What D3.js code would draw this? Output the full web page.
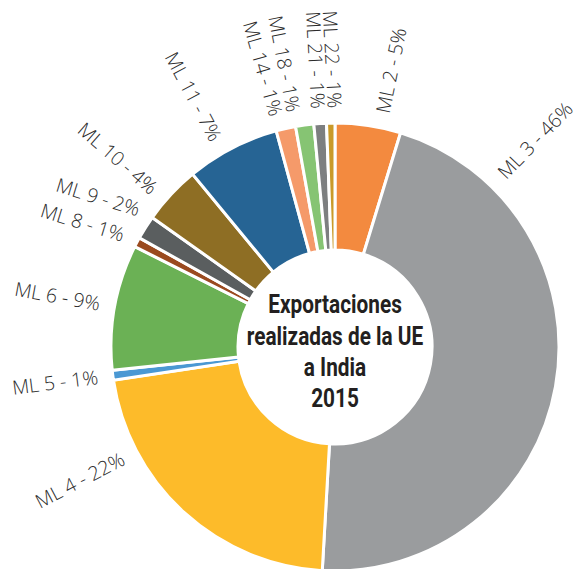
<!DOCTYPE html>
<html>
<head>
<meta charset="utf-8">
<script src="https://cdn.jsdelivr.net/npm/d3@7"></script>
<style>
  body { margin: 0; background: #fff; }
</style>
</head>
<body>
<div id="chart"></div>
<script>
// slices clockwise from 12 o'clock
var categories = ["ML 2", "ML 3", "ML 4", "ML 5", "ML 6", "ML 8", "ML 9",
    "ML 10", "ML 11", "ML 14", "ML 18", "ML 21", "ML 22"];
var shares = [4.7, 45.9, 21.6, 0.7, 9.0, 0.7, 1.7, 4.2, 6.7, 1.4, 1.3, 0.9, 0.6];
var pctLabels = ["5%", "46%", "22%", "1%", "9%", "1%", "2%", "4%", "7%", "1%", "1%", "1%", "1%"];
var centerLines = ["Exportaciones", "realizadas de la UE", "a India", "2015"];

var sliceColors = ["#f38a3f", "#9a9c9e", "#fdbb2a", "#4a98d3", "#6bb155", "#9a4a1f",
    "#5a5e5f", "#8e6e24", "#266494", "#f59a6a", "#86c473", "#7d7f80", "#c99a2a"];

var width = 581, height = 569;
var cx = 335, cy = 347,
    outerR = 224, innerR = 97;

var svg = d3.select("#chart")
    .append("svg")
    .attr("width", width)
    .attr("height", height);

var g = svg.append("g")
    .attr("transform", "translate(" + cx + "," + cy + ")");

var color = d3.scaleOrdinal()
    .domain(categories)
    .range(sliceColors);

var pie = d3.pie()
    .sort(null)
    .value(function (d) { return d.value; });

var data = categories.map(function (c, i) {
    return {name: c, value: shares[i], label: c + " - " + pctLabels[i]};
});

var arcs = pie(data);

var arc = d3.arc()
    .innerRadius(innerR)
    .outerRadius(outerR);

g.selectAll("path.slice")
    .data(arcs)
    .enter()
    .append("path")
    .attr("class", "slice")
    .attr("d", arc)
    .style("fill", function (d) { return color(d.data.name); })
    .style("stroke", "white")
    .style("stroke-width", 3);

// nudge labels (degrees) so they fit the canvas and don't collide
var labelShift = {"ML 2": 3, "ML 3": -56, "ML 4": 20, "ML 9": 2.8, "ML 10": -2,
    "ML 11": -2.5, "ML 14": -1.6, "ML 18": -2.2, "ML 21": -0.3, "ML 22": 1};
// a couple of labels are not exactly radial
var labelTilt = {"ML 8": 287, "ML 9": 287, "ML 11": 332, "ML 14": 344, "ML 18": 349,
    "ML 21": 357, "ML 22": 357};

var labelR = outerR + 15;

g.selectAll("text.lbl")
    .data(arcs)
    .enter()
    .append("text")
    .attr("class", "lbl")
    .each(function (d) {
        var deg = (d.startAngle + d.endAngle) / 2 * 180 / Math.PI;
        deg += labelShift[d.data.name] || 0;
        var right = deg < 180;
        var tilt = labelTilt[d.data.name] !== undefined ? labelTilt[d.data.name] : deg;
        var rot = right ? tilt - 90 : tilt - 270;
        var a = deg * Math.PI / 180;
        var x = Math.sin(a) * labelR, y = -Math.cos(a) * labelR;
        d3.select(this)
            .attr("transform", "translate(" + x + "," + y + ") rotate(" + rot + ")")
            .attr("text-anchor", right ? "start" : "end");
    })
    .attr("dy", "0.35em")
    .style("font-family", "'Open Sans', sans-serif")
    .style("font-weight", 300)
    .style("font-size", "19.5px")
    .style("fill", "#2b2b2b")
    .text(function (d) { return d.data.label; });

// center title, squeezed to look condensed
var title = g.append("text")
    .attr("text-anchor", "middle")
    .attr("transform", "scale(0.8,1)")
    .style("font-family", "Roboto, sans-serif")
    .style("font-weight", "bold")
    .style("font-size", "26px")
    .style("fill", "#231f20");

title.selectAll("tspan")
    .data(centerLines)
    .enter()
    .append("tspan")
    .attr("x", 0)
    .attr("y", function (d, i) { return -34 + i * 31.5; })
    .text(function (d) { return d; });
</script>
</body>
</html>
